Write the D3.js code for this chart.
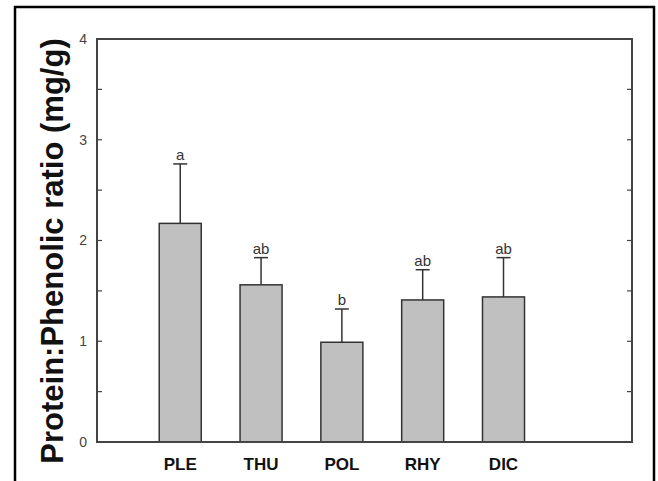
<!DOCTYPE html>
<html>
<head>
<meta charset="utf-8">
<script src="https://cdn.jsdelivr.net/npm/d3@7/dist/d3.min.js"></script>
<style>
  body { margin: 0; background: #fff; }
  svg text { font-family: Arial, "Liberation Sans", sans-serif; }
</style>
</head>
<body>
<div id="chart"></div>
<script>
// data
const groups = ["PLE", "THU", "POL", "RHY", "DIC"];
const means = [2.17, 1.56, 0.99, 1.41, 1.44];
const errors = [0.59, 0.27, 0.33, 0.30, 0.39];
const letters = ["a", "ab", "b", "ab", "ab"];
const yTicks = [0, 1, 2, 3, 4];

const W = 658, H = 481;
const margin = { top: 39, right: 26, bottom: 39, left: 97 };
const width = W - margin.left - margin.right;
const height = H - margin.top - margin.bottom;

const svg = d3.select("#chart").append("svg")
    .attr("width", W)
    .attr("height", H);

// outer frame (bottom edge is cut off)
svg.append("path")
    .attr("d", "M15,481 V7 H654 V481")
    .attr("fill", "none")
    .attr("stroke", "#000")
    .attr("stroke-width", 2.5);

const g = svg.append("g")
    .attr("transform", `translate(${margin.left},${margin.top})`);

// categories sit at 1..5 on a linear axis, like SigmaPlot does
const x = d3.scaleLinear()
    .domain([-0.03, 6.59])
    .range([0, width]);

const y = d3.scaleLinear()
    .domain([0, 4])
    .range([height, 0]);

const barW = x(0.52) - x(0);

// bars
g.selectAll(".bar")
    .data(means)
    .enter()
    .append("rect")
    .attr("class", "bar")
    .attr("x", (d, i) => x(i + 1) - barW / 2)
    .attr("y", d => y(d))
    .attr("width", barW)
    .attr("height", d => y(0) - y(d))
    .attr("fill", "#c0c0c0")
    .attr("stroke", "#333")
    .attr("stroke-width", 1.5);

// error bars (upper only)
const capW = 7;
groups.forEach((grp, i) => {
    const cx = x(i + 1);
    const top = y(means[i] + errors[i]);
    g.append("line")
        .attr("x1", cx).attr("x2", cx)
        .attr("y1", y(means[i])).attr("y2", top)
        .attr("stroke", "#333").attr("stroke-width", 1.5);
    g.append("line")
        .attr("x1", cx - capW).attr("x2", cx + capW)
        .attr("y1", top).attr("y2", top)
        .attr("stroke", "#333").attr("stroke-width", 1.5);
    g.append("text")
        .attr("x", cx)
        .attr("y", top - 4)
        .attr("text-anchor", "middle")
        .attr("font-size", 15)
        .attr("fill", "#333")
        .text(letters[i]);
});

// frame around the plot area
g.append("rect")
    .attr("width", width)
    .attr("height", height)
    .attr("fill", "none")
    .attr("stroke", "#444")
    .attr("stroke-width", 2);

// left axis, ticks pointing in
const minorTicks = d3.range(0, 4.01, 0.5);
const yAxisL = g.append("g")
    .call(d3.axisLeft(y).tickValues(yTicks).tickSize(0).tickPadding(10).tickFormat(d3.format("d")));
yAxisL.select(".domain").remove();
yAxisL.selectAll("text")
    .attr("font-size", 14)
    .attr("fill", "#444")
    .attr("font-family", "Arial, 'Liberation Sans', sans-serif");

g.selectAll(".tickL")
    .data(minorTicks)
    .enter()
    .append("line")
    .attr("x1", 0).attr("x2", 5)
    .attr("y1", d => y(d)).attr("y2", d => y(d))
    .attr("stroke", "#444").attr("stroke-width", 1.2);

// right side ticks, pointing in
g.selectAll(".tickR")
    .data(minorTicks)
    .enter()
    .append("line")
    .attr("x1", width - 5).attr("x2", width)
    .attr("y1", d => y(d)).attr("y2", d => y(d))
    .attr("stroke", "#444").attr("stroke-width", 1.2);

// category labels
g.selectAll(".xlab")
    .data(groups)
    .enter()
    .append("text")
    .attr("x", (d, i) => x(i + 1))
    .attr("y", height + 28)
    .attr("text-anchor", "middle")
    .attr("font-size", 17)
    .attr("font-weight", "bold")
    .attr("fill", "#111")
    .text(d => d);

// y title
svg.append("text")
    .attr("transform", `translate(63,251) rotate(-90)`)
    .attr("text-anchor", "middle")
    .attr("font-size", 31)
    .attr("font-weight", "bold")
    .attr("fill", "#111")
    .text("Protein:Phenolic ratio (mg/g)");
</script>
</body>
</html>
